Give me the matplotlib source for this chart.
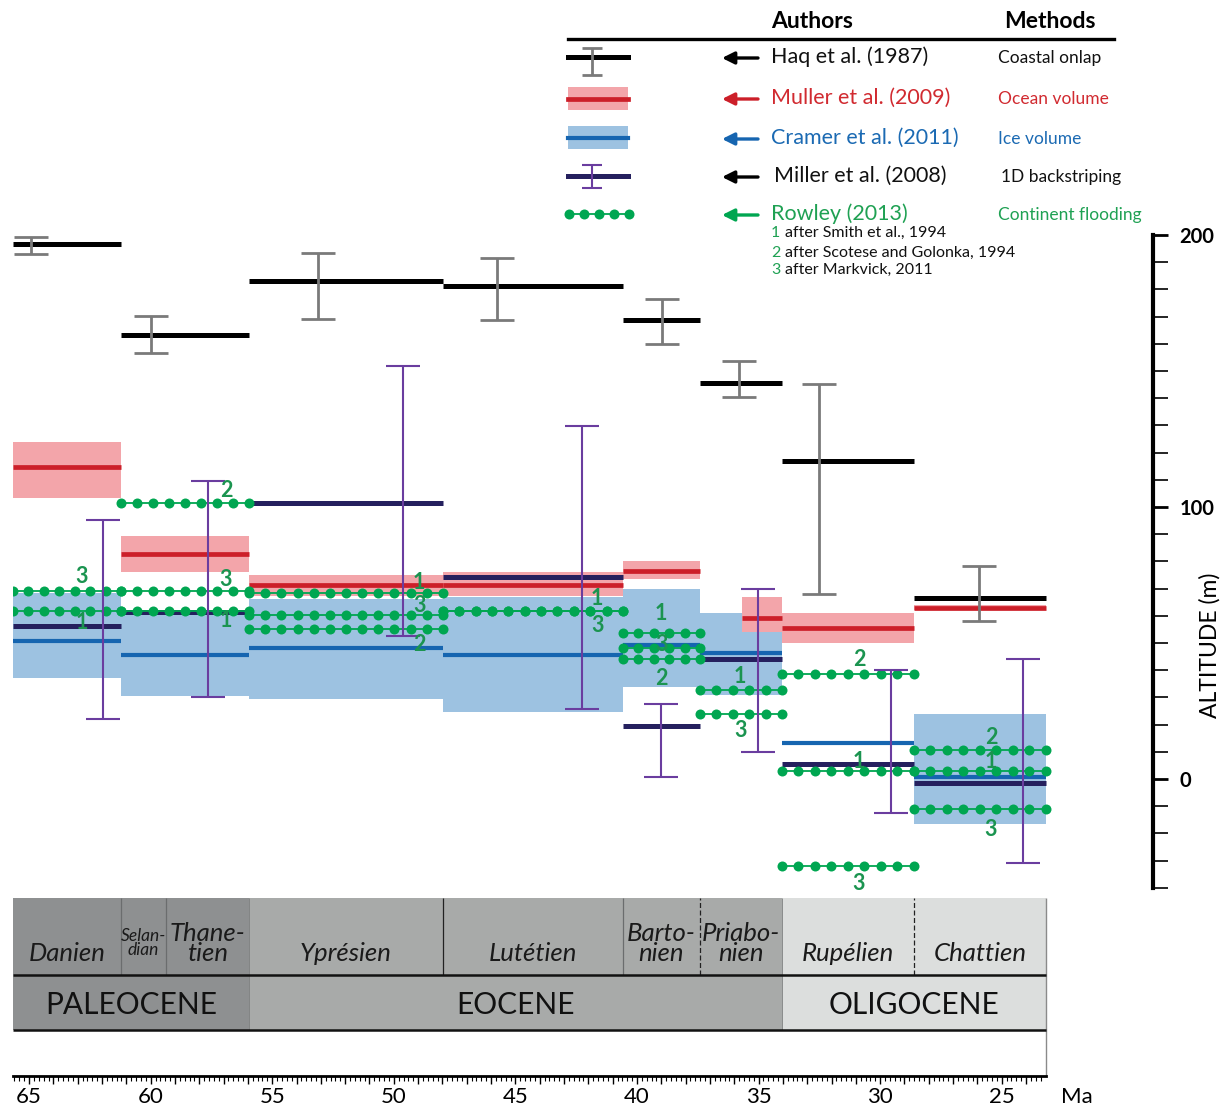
"""
Paleogene eustatic sea level: stage-by-stage comparison of five
published reconstructions (Haq, Muller, Cramer, Miller, Rowley),
plotted against the Paleocene-Oligocene time scale.

Writes out.png.
"""
import numpy as np
import matplotlib.pyplot as plt

plt.rcParams['font.family'] = ['Lato', 'DejaVu Sans']

# --------------------------------------------------------------------------
# Time scale (Ma, boundaries as drawn)
# --------------------------------------------------------------------------
STAGE_NAMES = ["Danien", "Selan-\ndian", "Thane-\ntien", "Yprésien", "Lutétien",
               "Barto-\nnien", "Priabo-\nnien", "Rupélien", "Chattien"]
STAGE_START = [65.66, 61.22, 59.37, 55.95, 47.98, 40.58, 37.41, 34.04, 28.61]
STAGE_END = [61.22, 59.37, 55.95, 47.98, 40.58, 37.41, 34.04, 28.61, 23.18]
STAGE_EPOCH = [0, 0, 0, 1, 1, 1, 1, 2, 2]

EPOCH_NAMES = ["PALEOCENE", "EOCENE", "OLIGOCENE"]
EPOCH_START = [65.66, 55.95, 34.04]
EPOCH_END = [55.95, 34.04, 23.18]

# bins shared by most of the sea-level estimates
BIN_START = [65.66, 61.22, 55.95, 47.98, 40.58, 37.41, 34.04, 28.61]
BIN_END = [61.22, 55.95, 47.98, 40.58, 37.41, 34.04, 28.61, 23.18]

# --------------------------------------------------------------------------
# Sea level (m)
# --------------------------------------------------------------------------
# Haq et al. (1987), coastal onlap
HAQ_LEVEL = [196.7, 163.2, 183.0, 181.4, 168.8, 145.6, 116.9, 66.5]
HAQ_ERR_AGE = [64.90, 59.98, 53.12, 45.74, 38.99, 35.81, 32.52, 25.94]
HAQ_ERR_LOW = [193.0, 156.7, 169.1, 168.9, 159.8, 140.6, 67.9, 58.1]
HAQ_ERR_HIGH = [199.1, 170.3, 193.3, 191.4, 176.4, 153.8, 145.2, 78.3]

# Muller et al. (2009), ocean volume
MULLER_START = [65.66, 61.22, 55.95, 47.98, 40.58, 35.68, 34.04, 28.61]
MULLER_END = [61.22, 55.95, 47.98, 40.58, 37.41, 34.04, 28.61, 23.18]
MULLER_LEVEL = [114.6, 82.6, 71.3, 71.3, 76.5, 59.2, 55.5, 62.9]
MULLER_LOW = [103.4, 76.2, 67.4, 67.3, 73.5, 54.0, 50.0, 62.0]
MULLER_HIGH = [123.8, 89.5, 75.0, 76.1, 80.1, 66.9, 61.0, 63.8]

# Cramer et al. (2011), ice volume (no envelope for the Rupelian)
CRAMER_LEVEL = [50.7, 45.6, 48.0, 45.5, 49.4, 46.2, 13.2, 0.7]
CRAMER_LOW = [37.1, 30.4, 29.4, 24.6, 33.8, 30.9, np.nan, -16.5]
CRAMER_HIGH = [68.4, 61.5, 66.2, 66.9, 69.9, 61.0, np.nan, 23.9]

# Miller et al. (2008), 1D backstripping
MILLER_LEVEL = [56.3, 61.4, 101.5, 74.3, 19.5, 44.0, 5.5, -1.5]
MILLER_ERR_AGE = [61.94, 57.63, 49.61, 42.25, 39.01, 35.02, 29.56, 24.13]
MILLER_ERR_LOW = [21.9, 30.0, 52.6, 25.7, 0.7, 9.9, -12.5, -30.9]
MILLER_ERR_HIGH = [95.2, 109.7, 151.9, 129.8, 27.6, 69.9, 40.1, 44.1]

# Rowley (2013), continent flooding; model 1/2/3 = Smith / Scotese / Markwick
ROWLEY_START = [65.66, 65.66, 61.22, 61.22, 61.22, 55.95, 55.95, 55.95,
                47.98, 47.98, 40.58, 40.58, 40.58, 37.41, 37.41,
                34.04, 34.04, 34.04, 28.61, 28.61, 28.61]
ROWLEY_END = [61.22, 61.22, 55.95, 55.95, 55.95, 47.98, 47.98, 47.98,
              40.58, 40.58, 37.41, 37.41, 37.41, 34.04, 34.04,
              28.61, 28.61, 28.61, 23.18, 23.18, 23.18]
ROWLEY_LEVEL = [69.1, 61.8, 101.5, 69.1, 61.8, 68.3, 60.3, 55.0,
                61.8, 61.8, 53.6, 48.3, 44.0, 32.7, 23.8,
                38.6, 3.0, -32.0, 10.7, 3.0, -11.0]
ROWLEY_MODEL = ["3", "1", "2", "3", "1", "1", "3", "2",
                "1", "3", "1", "3", "2", "1", "3",
                "2", "1", "3", "2", "1", "3"]
ROWLEY_LABEL_AGE = [62.82, 62.82, 56.90, 56.90, 56.90, 48.96, 48.96, 48.96,
                    41.64, 41.64, 39.00, 39.00, 39.00, 35.76, 35.76,
                    30.87, 30.87, 30.87, 25.44, 25.44, 25.44]
ROWLEY_LABEL_Y = [74.3, 57.7, 105.9, 73.2, 58.1, 72.4, 63.6, 49.3,
                  66.5, 56.3, 61.0, 49.3, 36.8, 37.5, 18.0,
                  43.8, 6.3, -38.6, 15.4, 6.3, -18.4]

# --------------------------------------------------------------------------
# Colours
# --------------------------------------------------------------------------
EPOCH_COLORS = ["#8e9091", "#a8aaa9", "#dcdedd"]
HAQ_C, HAQ_ERR_C = "#000000", "#7a7a7a"
MULLER_C, MULLER_BAND = "#cc1f29", "#f3a5aa"
CRAMER_C, CRAMER_BAND = "#1665b0", "#9dc2e1"
MILLER_C, MILLER_ERR_C = "#25205e", "#6a3d9f"
ROWLEY_C, ROWLEY_LAB = "#00a651", "#1b9450"
RED_TXT, BLUE_TXT, GREEN_TXT = "#d12a30", "#1b6ab3", "#1fa153"

W, H = 1227, 1109


def draw_timescale(ax):
    st0, st1 = -43.8, -72.1      # stage row
    ep0, ep1 = -72.1, -92.3      # epoch row
    s_start = np.array(STAGE_START)
    s_end = np.array(STAGE_END)
    ax.bar(s_start, st0 - st1, width=s_end - s_start, bottom=st1, align="edge",
           color=[EPOCH_COLORS[e] for e in STAGE_EPOCH], lw=0, zorder=1)
    e_start = np.array(EPOCH_START)
    e_end = np.array(EPOCH_END)
    ax.bar(e_start, ep0 - ep1, width=e_end - e_start, bottom=ep1, align="edge",
           color=EPOCH_COLORS, lw=0, zorder=1)

    ax.vlines([61.22, 59.37, 40.58], st1, st0, color="#6b6d6e", lw=0.9, zorder=2)
    ax.vlines([47.98], st1, st0, color="#222222", lw=0.9, zorder=2)
    ax.vlines([37.41, 28.61], st1, st0, color="#222222", lw=0.9,
              linestyles=(0, (4, 2)), zorder=2)
    ax.vlines([55.95, 34.04], ep1, st0, color="#7c7e7e", lw=0.6, zorder=2)
    ax.vlines([STAGE_END[-1]], -109.2, st0, color="#8a8a8a", lw=1.0, zorder=2)
    ax.hlines([st1, ep1], STAGE_START[0], STAGE_END[-1], color="#111111",
              lw=1.8, zorder=3)

    for name, a, b in zip(STAGE_NAMES, STAGE_START, STAGE_END):
        small = name.startswith("Selan")
        two = "\n" in name
        ax.text((a + b) / 2, -60.4 if two else -64.0, name,
                ha="center", va="center", style="italic",
                fontsize=12.5 if small else 18.5, linespacing=0.86,
                color="#1a1a1a", zorder=4)
    for name, a, b in zip(EPOCH_NAMES, EPOCH_START, EPOCH_END):
        ax.text((a + b) / 2, -83.0, name, ha="center", va="center",
                fontsize=21.5, color="#111111", zorder=4)


def draw_series(ax):
    b0 = np.array(BIN_START)
    b1 = np.array(BIN_END)

    # envelopes
    clo, chi = np.array(CRAMER_LOW), np.array(CRAMER_HIGH)
    ok = ~np.isnan(clo)
    ax.bar(b0[ok], (chi - clo)[ok], width=(b1 - b0)[ok], bottom=clo[ok],
           align="edge", color=CRAMER_BAND, lw=0, zorder=2)
    m0, m1 = np.array(MULLER_START), np.array(MULLER_END)
    mlo, mhi = np.array(MULLER_LOW), np.array(MULLER_HIGH)
    ax.bar(m0, mhi - mlo, width=m1 - m0, bottom=mlo, align="edge",
           color=MULLER_BAND, lw=0, zorder=2)

    # central values
    ax.hlines(CRAMER_LEVEL, b0, b1, color=CRAMER_C, lw=3.0, zorder=4)
    ax.hlines(MULLER_LEVEL, m0, m1, color=MULLER_C, lw=3.4, zorder=4)
    ax.hlines(MILLER_LEVEL, b0, b1, color=MILLER_C, lw=3.6, zorder=5)
    ax.hlines(HAQ_LEVEL, b0, b1, color=HAQ_C, lw=3.6, zorder=5)

    # Rowley dotted segments
    for a, b, v in zip(ROWLEY_START, ROWLEY_END, ROWLEY_LEVEL):
        n = int(round((a - b) / 0.66)) + 1
        xs = np.linspace(a, b, n)
        ax.plot(xs, np.full(n, v), "-o", color=ROWLEY_C, lw=1.3, ms=7.2,
                mew=0, zorder=6)
    for lab, x, y in zip(ROWLEY_MODEL, ROWLEY_LABEL_AGE, ROWLEY_LABEL_Y):
        ax.text(x, y, lab, ha="center", va="center", color=ROWLEY_LAB,
                fontsize=15.5, fontweight="bold", zorder=8)

    # error bars
    hl, hh = np.array(HAQ_ERR_LOW), np.array(HAQ_ERR_HIGH)
    ax.errorbar(HAQ_ERR_AGE, (hl + hh) / 2, yerr=(hh - hl) / 2, fmt="none",
                ecolor=HAQ_ERR_C, elinewidth=2.0, capsize=12, capthick=2.0,
                zorder=7)
    ml, mh = np.array(MILLER_ERR_LOW), np.array(MILLER_ERR_HIGH)
    ax.errorbar(MILLER_ERR_AGE, (ml + mh) / 2, yerr=(mh - ml) / 2, fmt="none",
                ecolor=MILLER_ERR_C, elinewidth=1.5, capsize=12, capthick=1.5,
                zorder=7)


def draw_legend(fig):
    lg = fig.add_axes([0, 0, 1, 1])
    lg.set_xlim(0, W)
    lg.set_ylim(H, 0)
    lg.axis("off")
    lg.patch.set_alpha(0)

    lg.text(771, 21, "Authors", fontsize=16.5, fontweight="bold", va="center")
    lg.text(1004, 21, "Methods", fontsize=16.5, fontweight="bold", va="center")
    lg.plot([568, 1114], [39, 39], color="k", lw=2.4)

    rows = [57, 98, 138, 176, 214]
    authors = ["Haq et al. (1987)", "Muller et al. (2009)", "Cramer et al. (2011)",
               "Miller et al. (2008)", "Rowley (2013)"]
    methods = ["Coastal onlap", "Ocean volume", "Ice volume", "1D backstriping",
               "Continent flooding"]
    colors = ["#111111", RED_TXT, BLUE_TXT, "#111111", GREEN_TXT]
    arrow_c = ["#000000", MULLER_C, CRAMER_C, "#000000", ROWLEY_C]
    ax_x = [771, 771, 771, 774, 771]
    mx_x = [998, 998, 998, 1001, 998]
    for y, a, m, c, ac, x1, x2 in zip(rows, authors, methods, colors, arrow_c,
                                      ax_x, mx_x):
        lg.annotate("", xy=(722, y + 1), xytext=(758, y + 1),
                    arrowprops=dict(arrowstyle="-|>", color=ac, lw=2.4,
                                    mutation_scale=18, shrinkA=0, shrinkB=0))
        lg.text(x1, y, a, fontsize=15.5, color=c, va="center")
        lg.text(x2, y + 1, m, fontsize=12.5, color=c, va="center")

    # symbols
    lg.plot([568, 628], [57, 57], color=HAQ_C, lw=3.6)
    lg.errorbar([592], [61.5], yerr=[13.5], fmt="none", ecolor=HAQ_ERR_C,
                elinewidth=2.0, capsize=7.5, capthick=2.0)
    lg.bar([568], [23], width=60, bottom=87, align="edge", color=MULLER_BAND, lw=0)
    lg.plot([568, 628], [99, 99], color=MULLER_C, lw=3.4)
    lg.bar([568], [23], width=60, bottom=126, align="edge", color=CRAMER_BAND, lw=0)
    lg.plot([568, 628], [138, 138], color=CRAMER_C, lw=3.0)
    lg.plot([568, 628], [176, 176], color=MILLER_C, lw=3.6)
    lg.errorbar([592], [176.5], yerr=[11.5], fmt="none", ecolor=MILLER_ERR_C,
                elinewidth=1.5, capsize=7.5, capthick=1.5)
    lg.plot(np.linspace(569, 629, 5), np.full(5, 214), "-o", color=ROWLEY_C,
            lw=1.3, ms=7.2, mew=0)

    refs = ["after Smith et al., 1994", "after Scotese and Golonka, 1994",
            "after Markvick, 2011"]
    for i, (y, r) in enumerate(zip([232, 252, 269], refs)):
        lg.text(771, y + 1, str(i + 1), fontsize=11.5, color=GREEN_TXT, va="center")
        lg.text(785, y + 1, r, fontsize=11.5, color="#111111", va="center")


def main() -> None:
    fig = plt.figure(figsize=(W / 100, H / 100), dpi=100)
    ax = fig.add_axes([13 / W, 1 - 1076 / H, (1153 - 13) / W, (1076 - 235) / H])
    ax.set_xlim(65.66, 18.78)
    ax.set_ylim(-109.2, 200)

    draw_timescale(ax)
    draw_series(ax)

    # axes: bottom time axis, right altitude axis
    for s in ("top", "left"):
        ax.spines[s].set_visible(False)
    ax.spines["bottom"].set_bounds(STAGE_START[0], STAGE_END[-1])
    ax.spines["bottom"].set_linewidth(2.0)
    ax.spines["right"].set_bounds(-40, 200)
    ax.spines["right"].set_linewidth(3.0)

    majors = list(range(24, 66))
    ax.set_xticks(majors, [str(v) if v % 5 == 0 else "" for v in majors])
    ax.set_xticks(np.arange(23.4, 65.61, 0.2), minor=True)
    ax.tick_params(axis="x", which="major", length=6, width=1.0, pad=2,
                   labelsize=16, direction="out")
    ax.tick_params(axis="x", which="minor", length=3.5, width=0.8, direction="out")
    ax.annotate("Ma", xy=(1061 / W, 1 - 1097 / H), xycoords="figure fraction",
                fontsize=16, va="center", ha="left")

    ax.yaxis.set_ticks_position("right")
    ax.set_yticks([0, 100, 200], ["0", "100", "200"])
    ax.set_yticks(range(-40, 201, 10), minor=True)
    ax.tick_params(axis="y", which="major", length=11, width=2.0, pad=8,
                   labelsize=14.5, direction="out")
    ax.tick_params(axis="y", which="minor", length=11, width=1.2, direction="out")
    for t in ax.get_yticklabels():
        t.set_fontweight("bold")
    ax.yaxis.set_label_position("right")
    ax.set_ylabel("ALTITUDE (m)", fontsize=16.5, rotation=90)
    ax.yaxis.set_label_coords(1.040, 0.5125)

    draw_legend(fig)

    fig.savefig("out.png", dpi=100)
    plt.close(fig)


if __name__ == "__main__":
    main()
